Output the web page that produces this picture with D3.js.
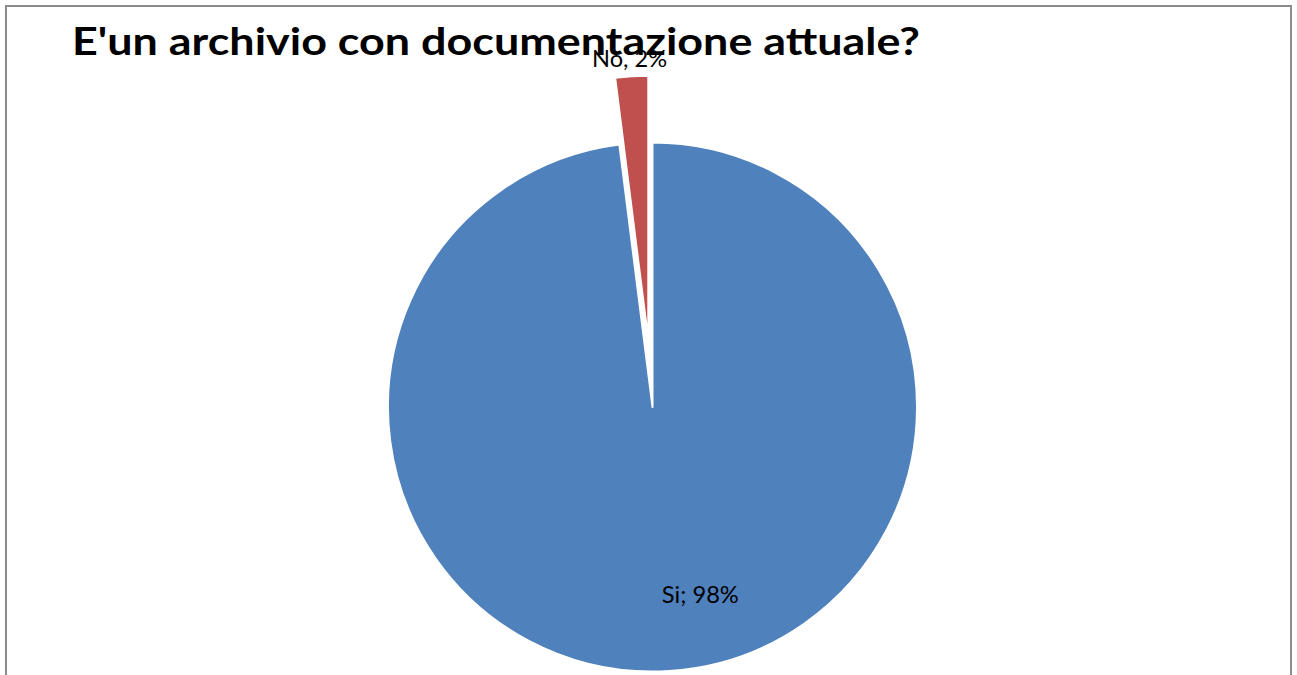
<!DOCTYPE html>
<html><head><meta charset="utf-8">
<script src="https://cdn.jsdelivr.net/npm/d3@7"></script>
<style>html,body{margin:0;padding:0;background:#fff;}svg{display:block;}</style>
</head><body>
<svg id="c" width="1297" height="675"></svg>
<script>
const categories = ["Si", "No"];
const values = [98, 2];
const labels = ["Si; 98%", "No, 2%"];
const colors = ["#4F81BD", "#C0504D"];
const title = "E'un archivio con documentazione attuale?";

const svg = d3.select("#c");
const W = 1297, H = 675;
// frame
svg.append("path")
  .attr("d", `M6,${H} L6,6 L1291,6 L1291,${H}`)
  .attr("fill", "none").attr("stroke", "#8c8c8c").attr("stroke-width", 2);

const cx = 652.5, cy = 407, R = 264.5;
const data = categories.map((c, i) => ({cat: c, v: values[i], label: labels[i], color: colors[i]}));
const pie = d3.pie().value(d => d.v).sort(null);
const arcs = pie(data);
const arc = d3.arc().innerRadius(0).outerRadius(R);
const explode = [0, 67];

const g = svg.append("g").attr("transform", `translate(${cx},${cy})`);
g.selectAll("path.slice").data(arcs).join("path")
  .attr("class", "slice")
  .attr("d", arc)
  .attr("fill", d => d.data.color)
  .attr("stroke", "#fff").attr("stroke-width", 2).attr("stroke-linejoin", "round")
  .attr("transform", (d, i) => {
    const m = (d.startAngle + d.endAngle) / 2;
    return `translate(${explode[i] * Math.sin(m)},${-explode[i] * Math.cos(m)})`;
  });

svg.append("text")
  .attr("x", 72).attr("y", 55)
  .attr("font-family", "Lato, 'Open Sans', sans-serif")
  .attr("font-weight", "bold")
  .attr("font-size", 38)
  .attr("textLength", 848)
  .attr("lengthAdjust", "spacingAndGlyphs")
  .attr("fill", "#000")
  .text(title);

// labels
const labelR = [188, 349];
const labelDx = [36, -1];
const labelW = [77, 75];
g.selectAll("text.lbl").data(arcs).join("text")
  .attr("class", "lbl")
  .attr("x", (d, i) => labelR[i] * Math.sin((d.startAngle + d.endAngle) / 2) + labelDx[i])
  .attr("y", (d, i) => -labelR[i] * Math.cos((d.startAngle + d.endAngle) / 2))
  .attr("dy", "0.35em")
  .attr("text-anchor", "middle")
  .attr("font-family", "Lato, 'Open Sans', sans-serif")
  .attr("font-size", 23)
  .attr("textLength", (d, i) => labelW[i])
  .attr("lengthAdjust", "spacingAndGlyphs")
  .attr("fill", "#000")
  .text(d => d.data.label);
</script>
</body></html>
